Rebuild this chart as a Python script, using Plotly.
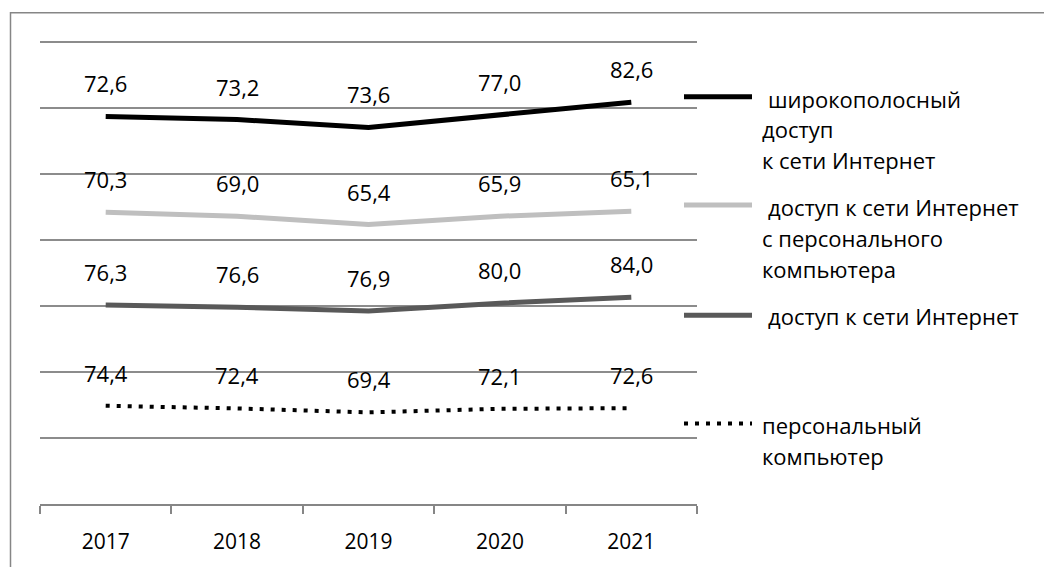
import numpy as np
import plotly.graph_objects as go

years = ["2017", "2018", "2019", "2020", "2021"]
# Stacked from bottom to top (as in the reference chart)
pc = [74.4, 72.4, 69.4, 72.1, 72.6]
internet = [76.3, 76.6, 76.9, 80.0, 84.0]
internet_pc = [70.3, 69.0, 65.4, 65.9, 65.1]
broadband = [72.6, 73.2, 73.6, 77.0, 82.6]
grid_vals = [50, 100, 150, 200, 250, 300, 350]

series = [
    (pc, "#000000", 4, "4px,7px"),
    (internet, "#595959", 5, "solid"),
    (internet_pc, "#bfbfbf", 5, "solid"),
    (broadband, "#000000", 5, "solid"),
]

W, H = 1044, 567
L, R, T, B = 40, 697, 42, 507
PAD = 3  # extra px above top gridline so it is drawn
FONT = "Open Sans"


def px(x):
    return (x - L) / (R - L)


def py(y):
    return (B - y) / (B - (T - PAD))


fig = go.Figure()
cum = np.zeros(len(years))
annotations = []
for vals, color, width, dash in series:
    cum = cum + np.array(vals)
    fig.add_trace(go.Scatter(
        x=years, y=cum.tolist(), mode="lines",
        line=dict(color=color, width=width, dash=dash),
        showlegend=False, hoverinfo="skip",
    ))
    for i, (v, c) in enumerate(zip(vals, cum)):
        annotations.append(dict(
            x=i, y=float(c), xref="x", yref="y", text=f"{v:.1f}".replace(".", ","),
            showarrow=False, yshift=33, font=dict(family=FONT, size=22, color="#000000"),
            xanchor="center", yanchor="middle",
        ))

# Manual legend
legend_items = [
    ("#000000", "solid", 5, 97, [("широкополосный", 99, 766), ("доступ", 130, 760), ("к сети Интернет", 161, 760)]),
    ("#bfbfbf", "solid", 5, 206, [("доступ к сети Интернет", 208, 766), ("с персонального", 239, 760), ("компьютера", 270, 760)]),
    ("#595959", "solid", 5, 317, [("доступ к сети Интернет", 318, 766)]),
    ("#000000", "4px,7px", 4, 426, [("персональный", 427, 760), ("компьютер", 459, 760)]),
]
shapes = []
for color, dash, width, ly, lines in legend_items:
    shapes.append(dict(type="line", xref="paper", yref="paper",
                       x0=px(684), x1=px(752), y0=py(ly), y1=py(ly),
                       line=dict(color=color, width=width, dash=dash)))
    for txt, ty, tx in lines:
        annotations.append(dict(x=px(tx), y=py(ty), xref="paper", yref="paper",
                                text=txt, showarrow=False, xanchor="left", yanchor="middle",
                                font=dict(family=FONT, size=22, color="#000000")))

# outer border
shapes.append(dict(type="rect", xref="paper", yref="paper",
                   x0=px(10.5), x1=px(1060), y0=py(600), y1=py(12.5),
                   line=dict(color="#868686", width=1.5), layer="below"))

ytop = grid_vals[-1] * (B - T + PAD) / (B - T)

fig.update_layout(
    width=W, height=H,
    margin=dict(l=L, r=W - R, t=T - PAD, b=H - B, pad=0),
    paper_bgcolor="white", plot_bgcolor="white",
    font=dict(family=FONT, size=20, color="#000000"),
    annotations=annotations, shapes=shapes,
)
fig.update_xaxes(
    type="category", range=[-0.5, 4.5], tickson="boundaries",
    ticks="outside", ticklen=8, tickwidth=1.5, tickcolor="#868686",
    showline=True, linecolor="#868686", linewidth=1.5, showgrid=False,
    tickfont=dict(family=FONT, size=21, color="#000000"), ticklabelstandoff=18,
)
fig.update_yaxes(
    range=[0, ytop], tickvals=grid_vals,
    showticklabels=False, showgrid=True, gridcolor="#8c8c8c", gridwidth=1.5,
    zeroline=False, showline=False, ticks="",
)

fig.write_html("out.html", config={"displayModeBar": False},
               post_script="document.body.style.margin='0';document.body.style.overflow='hidden';")
